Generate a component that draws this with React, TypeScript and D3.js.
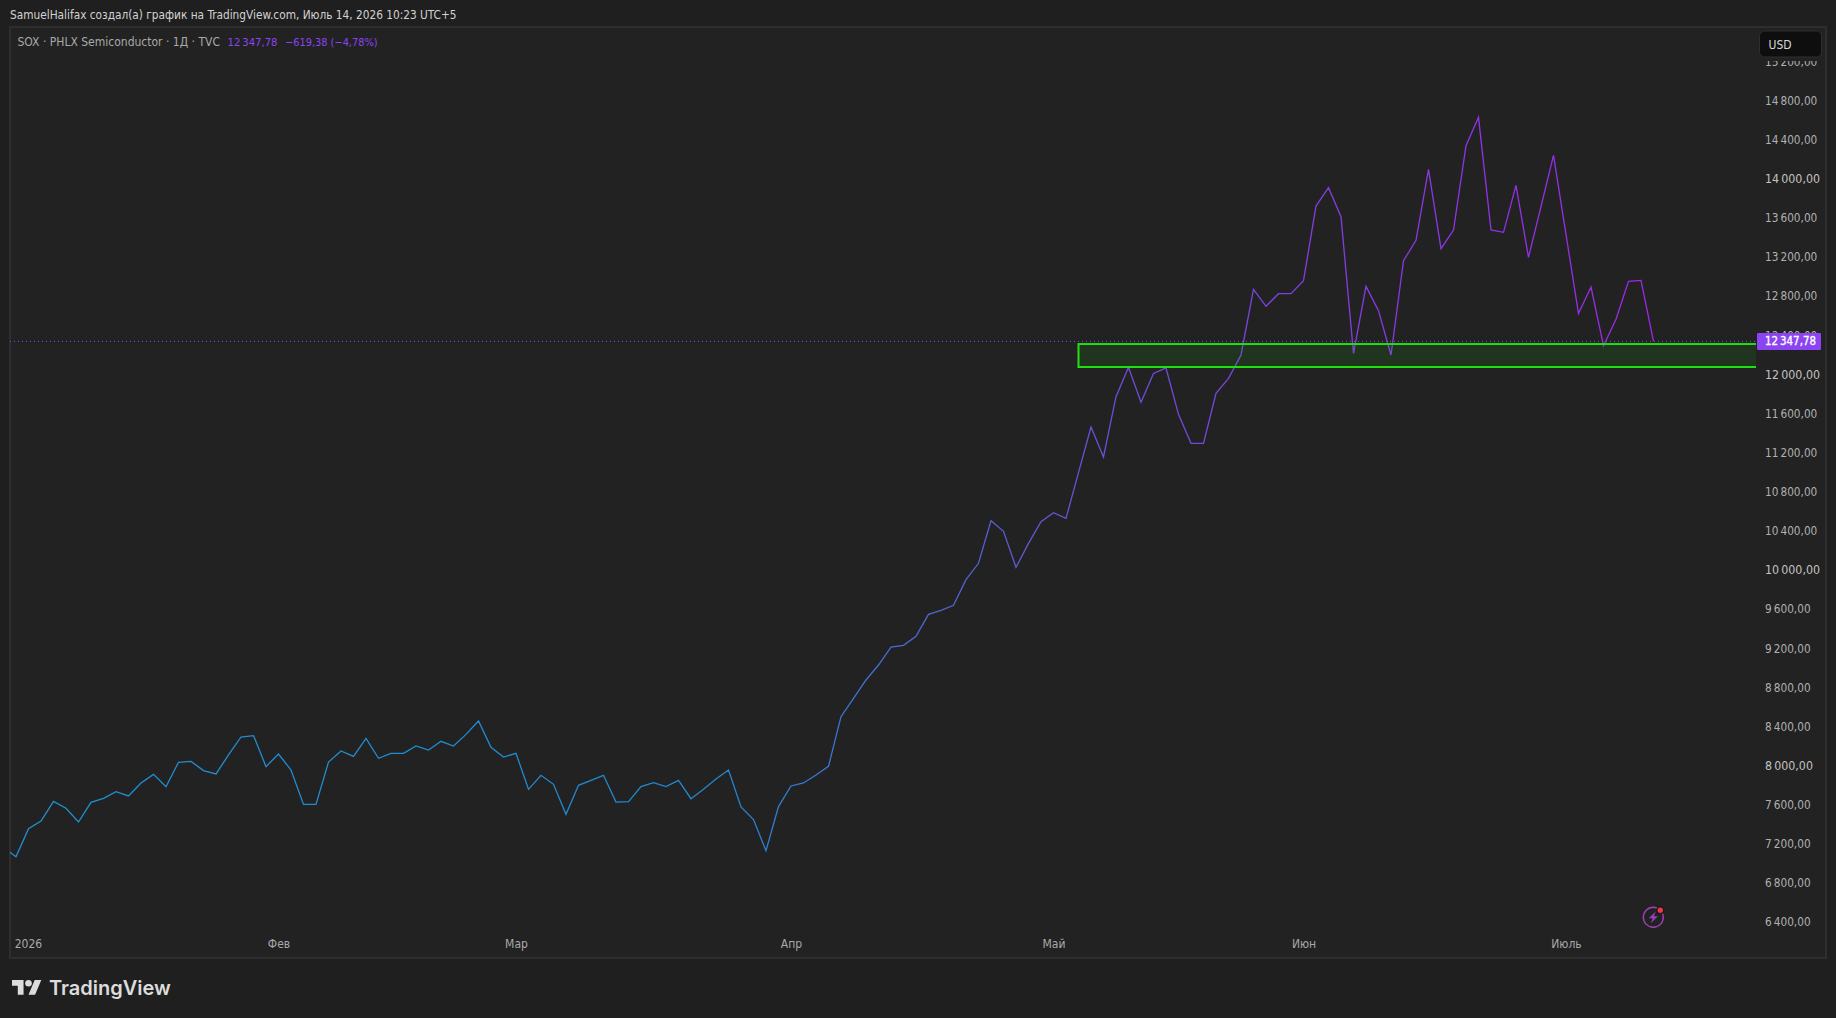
import { useRef, useEffect } from "react";
import * as d3 from "d3";

// closes per trading day, index 0 = first bar of 2026
const closesJan = [7175, 7079, 7366, 7444, 7645, 7574, 7434, 7635, 7676, 7744, 7700, 7833, 7921, 7795, 8044, 8054, 7959, 7925, 8119, 8303, 8317, 8000];
const closesFeb = [8129, 7966, 7614, 7614, 8047, 8160, 8105, 8289, 8085, 8136, 8136, 8211, 8170, 8259, 8211, 8330, 8467, 8197, 8098];
const closesMar = [8136, 7768, 7911, 7819, 7512, 7809, 7860, 7911, 7638, 7642, 7795, 7836, 7795, 7860, 7672, 7768, 7873, 7966, 7587, 7458, 7141, 7591];
const closesApr = [7802, 7833, 7914, 8003, 8511, 8698, 8886, 9039, 9223, 9240, 9332, 9557, 9598, 9649, 9912, 10079, 10515, 10406, 10038, 10283, 10505];
const closesMay = [10597, 10539, 11006, 11473, 11166, 11783, 12083, 11725, 12021, 12076, 11602, 11306, 11306, 11817, 11970, 12209, 12880, 12707, 12836, 12836];
const closesJun = [12969, 13732, 13920, 13623, 12226, 12911, 12662, 12209, 13173, 13381, 14107, 13296, 13487, 14349, 14639, 13487, 13463, 13944, 13208, 13726, 14250];
const closesJul = [13443, 12632, 12904, 12304, 12574, 12962, 12972, 12347.78];

const priceTicks = [6400, 6800, 7200, 7600, 8000, 8400, 8800, 9200, 9600, 10000, 10400, 10800, 11200, 11600, 12000, 12400, 12800, 13200, 13600, 14000, 14400, 14800, 15200];
const majorTicks = [8000, 10000, 12000, 14000];
const monthLabels = ["2026", "Фев", "Мар", "Апр", "Май", "Июн", "Июль"];
const monthBars = [0, 21, 40, 62, 83, 103, 124];
const lastPrice = 12347.78;
const zoneTop = 12321;
const zoneBottom = 12086;
const zoneStartBar = 85;

const UI_FONT = "'DejaVu Sans', sans-serif";
const W = 1836;
const H = 1018;

function formatPrice(v: number) {
  const [int, frac] = v.toFixed(2).split(".");
  return `${int.replace(/\B(?=(\d{3})+$)/g, "\u2009")},${frac}`;
}

export default function App() {
  const svgRef = useRef<SVGSVGElement>(null);

  useEffect(() => {
    if (!svgRef.current) return;
    const closes = [...closesJan, ...closesFeb, ...closesMar, ...closesApr, ...closesMay, ...closesJun, ...closesJul];

    const pane = { left: 10, top: 27, right: 1756, bottom: 958 };
    const svg = d3.select(svgRef.current);
    svg.selectAll("*").remove();

    const x = d3.scaleLinear().domain([0, 131]).range([16, 1653.5]);
    const y = d3.scaleLinear().domain([6400, 14800]).range([923.1, 101.6]);

    const defs = svg.append("defs");
    defs.append("clipPath").attr("id", "pane-clip").append("rect")
      .attr("x", pane.left).attr("y", pane.top)
      .attr("width", pane.right - pane.left).attr("height", pane.bottom - pane.top);

    const grad = defs.append("linearGradient").attr("id", "line-grad")
      .attr("gradientUnits", "userSpaceOnUse")
      .attr("x1", pane.left).attr("x2", 1660).attr("y1", 0).attr("y2", 0);
    grad.append("stop").attr("offset", 0).attr("stop-color", "#1e90d2");
    grad.append("stop").attr("offset", 0.42).attr("stop-color", "#2088d0");
    grad.append("stop").attr("offset", 0.65).attr("stop-color", "#6a4fd6");
    grad.append("stop").attr("offset", 1).attr("stop-color", "#a026ea");

    svg.append("rect").attr("width", W).attr("height", H).attr("fill", "#1f1f1f");

    // Pane
    svg.append("rect")
      .attr("x", pane.left).attr("y", pane.top)
      .attr("width", 1826 - pane.left).attr("height", pane.bottom - pane.top)
      .attr("fill", "#222222").attr("stroke", "#2e2e2e").attr("stroke-width", 2);

    // Price axis
    const yAxis = svg.append("g")
      .attr("transform", "translate(1765,-1)")
      .call(d3.axisRight(y).tickValues(priceTicks).tickSize(0).tickPadding(0).tickFormat((d) => formatPrice(+d)));
    yAxis.select(".domain").remove();
    yAxis.selectAll<SVGTextElement, number>("text")
      .style("font-family", UI_FONT)
      .style("font-stretch", "condensed")
      .style("font-size", (d) => (majorTicks.includes(d) ? "12.3px" : "11.7px"))
      .style("fill", (d) => (majorTicks.includes(d) ? "#c4c4c4" : "#b0b0b0"));

    // Time axis
    const xAxis = svg.append("g")
      .attr("transform", "translate(0,939)")
      .call(d3.axisBottom(x).tickValues(monthBars).tickSize(0).tickPadding(0).tickFormat((_, i) => monthLabels[i]));
    xAxis.select(".domain").remove();
    xAxis.selectAll<SVGTextElement, number>("text")
      .style("font-family", UI_FONT)
      .style("font-stretch", "condensed")
      .style("font-size", "12px")
      .style("fill", "#a9a9a9")
      .attr("text-anchor", (d) => (d === 0 ? "start" : "middle"))
      .attr("x", (d) => (d === 0 ? -1.8 : 0));

    const plot = svg.append("g").attr("clip-path", "url(#pane-clip)");

    // Last price dotted line
    plot.append("line")
      .attr("x1", pane.left).attr("x2", pane.right)
      .attr("y1", y(lastPrice)).attr("y2", y(lastPrice))
      .attr("stroke", "#8f45ee").attr("stroke-width", 1).attr("stroke-dasharray", "1 3");

    // Series, starts one bar before the first index so it runs off the left edge
    const line = d3.line<number>().x((_, i) => x(i - 1)).y((d) => y(d));
    plot.append("path")
      .attr("d", line(closes))
      .attr("fill", "none")
      .attr("stroke", "url(#line-grad)")
      .attr("stroke-width", 1.3)
      .attr("stroke-linejoin", "miter");

    // Support zone
    plot.append("rect")
      .attr("x", x(zoneStartBar)).attr("y", y(zoneTop))
      .attr("width", 1800 - x(zoneStartBar)).attr("height", y(zoneBottom) - y(zoneTop))
      .attr("fill", "#1fdc12").attr("fill-opacity", 0.1)
      .attr("stroke", "#22e010").attr("stroke-width", 2);

    // Last price label
    svg.append("rect")
      .attr("x", 1757).attr("y", y(lastPrice) - 8.5).attr("width", 64).attr("height", 17)
      .attr("rx", 1).attr("fill", "#8c44f2");
    svg.append("text")
      .attr("x", 1765).attr("y", y(lastPrice)).attr("dy", "0.35em")
      .style("font-family", UI_FONT).style("font-stretch", "condensed")
      .style("font-size", "11.4px").style("fill", "#ffffff")
      .style("stroke", "#ffffff").style("stroke-width", 0.3)
      .text(formatPrice(lastPrice));

    // Currency button, the pane colour hides the top of the tick label under it
    svg.append("rect")
      .attr("x", 1757).attr("y", 29).attr("width", 67).attr("height", 32)
      .attr("fill", "#222222");
    svg.append("rect")
      .attr("x", 1759.5).attr("y", 31).attr("width", 62).attr("height", 26).attr("rx", 5)
      .attr("fill", "#0e0e0e").attr("stroke", "#2e2e2e");
    svg.append("text")
      .attr("x", 1768.5).attr("y", 44.5).attr("dy", "0.35em")
      .style("font-family", UI_FONT).style("font-stretch", "condensed")
      .style("font-size", "12px").style("fill", "#d8d8d8")
      .text("USD");

    // Header and legend
    svg.append("text")
      .attr("x", 10).attr("y", 15).attr("dy", "0.35em")
      .style("font-family", UI_FONT).style("font-stretch", "condensed")
      .style("font-size", "11.75px").style("fill", "#d2d2d2")
      .text("SamuelHalifax создал(а) график на TradingView.com, Июль 14, 2026 10:23 UTC+5");
    const legend = (tx: number, text: string, fill: string, size: number) =>
      svg.append("text")
        .attr("x", tx).attr("y", 42).attr("dy", "0.35em")
        .style("font-family", UI_FONT).style("font-stretch", "condensed")
        .style("font-size", `${size}px`).style("fill", fill)
        .text(text);
    legend(17.5, "SOX · PHLX Semiconductor · 1Д · TVC", "#a9a9a9", 12);
    legend(227.5, formatPrice(lastPrice), "#8c44f2", 11.2);
    legend(285, "−619,38 (−4,78%)", "#8c44f2", 10.9);

    // Lightning badge
    const badge = svg.append("g").attr("transform", "translate(1653.3,917.3)");
    badge.append("circle").attr("r", 10).attr("fill", "none").attr("stroke", "#a23fb8").attr("stroke-width", 1.4);
    badge.append("path").attr("d", "M2.5 -6 L-4.5 1 L-0.5 1 L-2.5 6 L4.5 -1 L0.5 -1 Z").attr("fill", "#9a3fc4");
    badge.append("circle").attr("cx", 7).attr("cy", -7).attr("r", 4).attr("fill", "#1a1a1a");
    badge.append("circle").attr("cx", 7).attr("cy", -7).attr("r", 2.7).attr("fill", "#f23645");

    // Logo
    const logo = svg.append("g").attr("transform", "translate(12,976.7) scale(0.825)").attr("fill", "#dcdcdc");
    logo.append("path").attr("d", "M14 22H7V11H0V4h14v18zM28 22h-8l7.5-18h8L28 22z");
    logo.append("circle").attr("cx", 20).attr("cy", 8).attr("r", 4);
    svg.append("text")
      .attr("x", 49).attr("y", 995)
      .style("font-family", "Inter, Roboto, sans-serif")
      .style("font-size", "20px").style("font-weight", 600).style("fill", "#dcdcdc")
      .text("TradingView");
  }, []);

  return <svg ref={svgRef} width={W} height={H} style={{ position: "absolute", left: 0, top: 0, display: "block" }} />;
}
